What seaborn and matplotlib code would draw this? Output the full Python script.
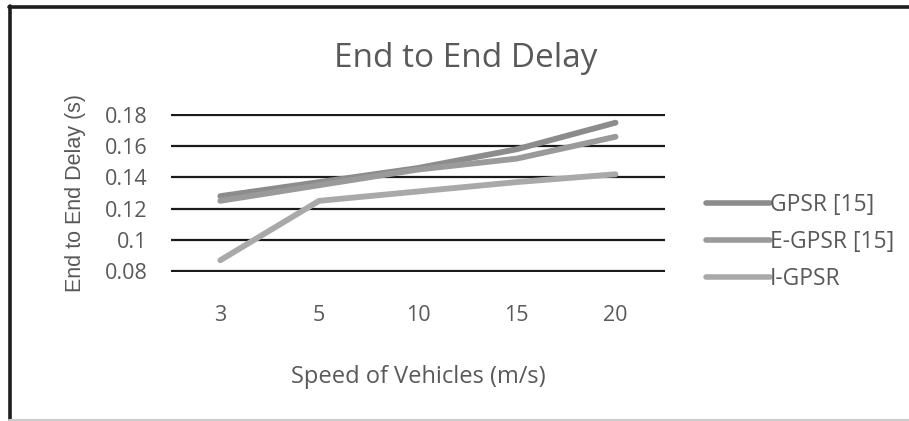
import matplotlib
matplotlib.use("Agg")
import matplotlib.pyplot as plt
import seaborn as sns
import pandas as pd
from matplotlib.lines import Line2D

speeds = ["3", "5", "10", "15", "20"]
gpsr = [0.128, 0.137, 0.146, 0.158, 0.175]
egpsr = [0.125, 0.135, 0.145, 0.152, 0.166]
igpsr = [0.087, 0.125, 0.131, 0.137, 0.142]
series_names = ["GPSR [15]", "E-GPSR [15]", "I-GPSR"]
colors = ["#8c8c8c", "#9a9a9a", "#a9a9a9"]

df = pd.DataFrame({
    "speed": speeds * 3,
    "delay": gpsr + egpsr + igpsr,
    "series": [series_names[0]] * 5 + [series_names[1]] * 5 + [series_names[2]] * 5,
})

sns.set_theme(style="white")
plt.rcParams['font.family'] = ['Open Sans', 'DejaVu Sans']
txt = "#595959"

fig = plt.figure(figsize=(9.09, 4.21), dpi=100)
ax = fig.add_axes([0.188, 0.354, 0.5435, 0.375])

# gridlines
for v in [0.08, 0.10, 0.12, 0.14, 0.16, 0.18]:
    ax.axhline(v, color="#1a1a1a", lw=1.6, zorder=0)

sns.lineplot(data=df, x="speed", y="delay", hue="series", palette=colors,
             hue_order=series_names, sort=False, lw=4.2, ax=ax, legend=False,
             solid_capstyle="round")

ax.set_xlim(-0.5, 4.5)
ax.set_ylim(0.0795, 0.1805)
ax.set_yticks([0.08, 0.10, 0.12, 0.14, 0.16, 0.18])
ax.set_yticklabels(["0.08", "0.1", "0.12", "0.14", "0.16", "0.18"])
for s in ax.spines.values():
    s.set_visible(False)
ax.tick_params(axis="both", length=0, labelsize=15.5, colors=txt)
ax.tick_params(axis="y", pad=17)
ax.tick_params(axis="x", pad=24)
ax.set_xlabel("Speed of Vehicles (m/s)", fontsize=17, color=txt, labelpad=28)
ax.set_ylabel("End to End Delay (s)", fontsize=15.5, color=txt, labelpad=13,
              family=["Liberation Sans", "DejaVu Sans"])
fig.text(0.512, 0.86, "End to End Delay", ha="center", va="center",
         fontsize=24, color=txt)

handles = [Line2D([0], [0], color=c, lw=4.0) for c in colors]
leg = fig.legend(handles, series_names, loc="center left",
                 bbox_to_anchor=(0.754, 0.425), frameon=False, fontsize=16.5,
                 handlelength=2.8, handletextpad=0.0, labelspacing=0.55)
for t in leg.get_texts():
    t.set_color(txt)

# outer frame
fig.add_artist(Line2D([0.0095, 1.0], [0.984, 0.984], transform=fig.transFigure,
                      color="#1e1e1e", lw=2.6))
fig.add_artist(Line2D([0.0105, 0.0105], [0.0, 0.986], transform=fig.transFigure,
                      color="#1e1e1e", lw=2.6))
fig.add_artist(Line2D([0.0095, 1.0], [0.003, 0.003], transform=fig.transFigure,
                      color="#cccccc", lw=1.5))

fig.savefig("out.png", dpi=100)
